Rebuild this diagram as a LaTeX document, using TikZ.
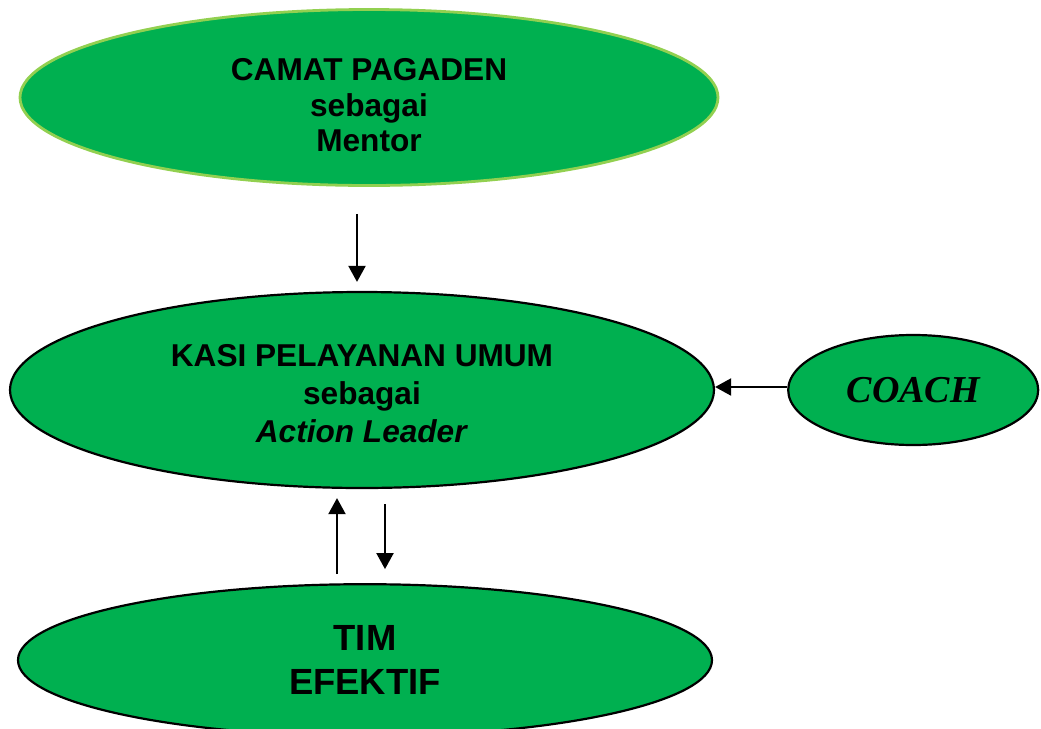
\documentclass[tikz,border=0pt]{standalone}
\usepackage{fontspec}
\setmainfont{Liberation Sans}
\newfontfamily\coachfont{Liberation Serif}
\usepackage{tikz}
\usetikzlibrary{shapes.geometric, arrows.meta, calc, positioning}
\definecolor{ovalgreen}{HTML}{00B050}
\definecolor{lightrim}{HTML}{92D050}
\tikzstyle{oval} = [ellipse, fill=ovalgreen, draw=black, line width=1.1pt, inner sep=0pt, align=center, font=\bfseries\fontsize{15.8}{19}\selectfont]
\tikzstyle{arrow} = [line width=1pt, -{Triangle[length=8pt, width=8.5pt]}]

\begin{document}
\begin{tikzpicture}
		\useasboundingbox (0,0) rectangle (520.5pt,-364.5pt);
		\node (Kasi) [oval, minimum width=352pt, minimum height=98pt] at (181pt,-195pt) {\rule{0pt}{14.3pt}KASI PELAYANAN UMUM\\sebagai\\\textit{Action Leader}};
		\node (Camat) [oval, draw=lightrim, line width=1.4pt, minimum width=349pt, minimum height=88pt, above = 52pt of Kasi, xshift=3.5pt, font=\bfseries\fontsize{15.8}{17.75}\selectfont] {\rule{0pt}{19pt}CAMAT PAGADEN\\sebagai\\Mentor};
		\node (Coach) [oval, minimum width=125pt, minimum height=55pt, right = 36pt of Kasi, font=\coachfont\bfseries\itshape\fontsize{19}{22}\selectfont] {COACH};
		\node (Tim) [oval, minimum width=347pt, minimum height=76pt, below = 47pt of Kasi, xshift=1.5pt, font=\bfseries\fontsize{18.2}{22}\selectfont] {TIM\\EFEKTIF};
		\draw [arrow] ([xshift=-6pt, yshift=-13.5pt]Camat.south) -- ([xshift=-2.5pt, yshift=4.5pt]Kasi.north);
		\draw [arrow] ([yshift=1.5pt]Coach.west) -- ([yshift=1.5pt]Kasi.east);
		\draw [arrow] ([xshift=-14pt, yshift=4.5pt]Tim.north) -- ([xshift=-12.5pt, yshift=-4.5pt]Kasi.south);
		\draw [arrow] ([xshift=11.5pt, yshift=-7.5pt]Kasi.south) -- ([xshift=10pt, yshift=7pt]Tim.north);
\end{tikzpicture}
\end{document}
